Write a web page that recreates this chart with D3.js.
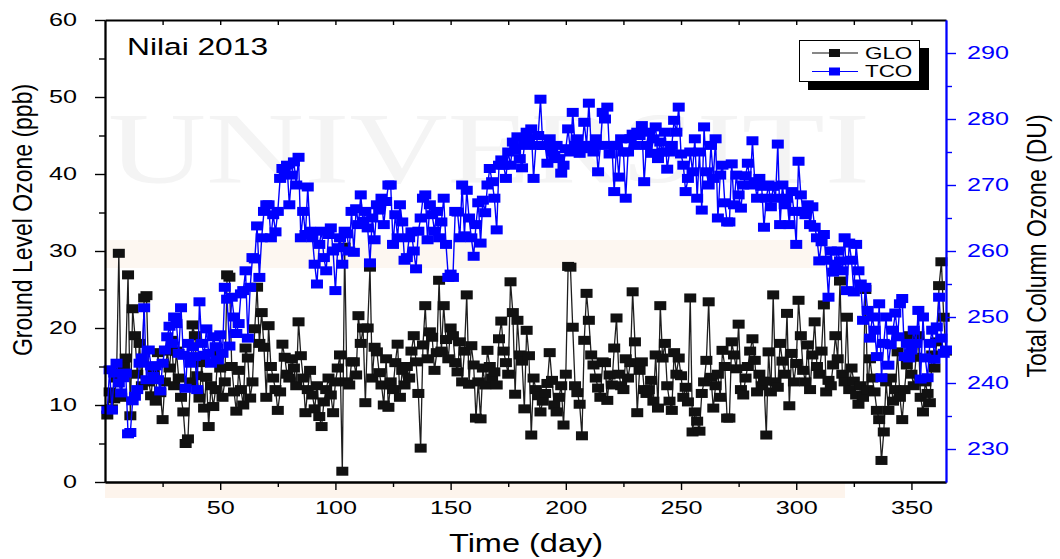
<!DOCTYPE html>
<html>
<head>
<meta charset="utf-8">
<script src="https://cdn.jsdelivr.net/npm/d3@7"></script>
<style>
    html, body { margin: 0; padding: 0; background: #fff; }
    #chart { width: 1060px; height: 559px; }
</style>
</head>
<body>
<div id="chart"></div>
<script>
// Daily values, day 1 .. 365
const gloValues = [
    8.7, 11.7, 9.5, 10.8, 13.5, 29.7, 11.0, 15.0, 16.1, 26.9,
    8.6, 22.5, 19.0, 14.0, 18.0, 12.5, 23.9, 24.2, 13.0, 11.2,
    14.5, 10.5, 16.8, 11.6, 8.1, 13.0, 17.0, 14.8, 18.4, 12.5,
    17.0, 13.5, 11.0, 9.1, 5.0, 5.6, 13.0, 20.4, 19.0, 13.8,
    10.9, 15.5, 9.6, 13.6, 7.2, 12.5, 9.8, 12.0, 16.5, 14.8,
    11.0, 13.0, 26.9, 26.6, 15.0, 11.7, 9.2, 14.5, 12.0, 10.0,
    17.4, 16.1, 10.9, 13.0, 19.9, 25.3, 18.0, 22.0, 17.5, 11.0,
    20.3, 15.0, 13.5, 12.0, 9.3, 11.7, 17.9, 16.2, 14.0, 13.5,
    16.0, 14.8, 12.5, 20.8, 16.4, 13.5, 9.0, 12.0, 14.5, 11.3,
    9.5, 12.5, 8.5, 7.2, 10.4, 12.0, 13.5, 11.3, 9.0, 13.0,
    14.8, 16.5, 1.4, 30.5, 13.0, 12.6, 15.6, 15.6, 13.9, 21.6,
    18.0, 20.0, 10.3, 20.0, 27.9, 13.5, 17.5, 16.9, 14.2, 12.6,
    10.0, 16.0, 9.7, 13.0, 12.0, 15.5, 17.9, 11.0, 14.5, 12.6,
    15.0, 13.5, 17.0, 19.0, 15.6, 11.5, 4.4, 17.8, 22.9, 16.0,
    19.5, 18.8, 14.5, 16.8, 26.2, 17.0, 22.9, 18.5, 16.0, 20.0,
    19.0, 15.5, 14.3, 18.2, 13.0, 17.0, 24.3, 12.7, 17.7, 15.2,
    8.3, 13.0, 8.2, 14.8, 12.6, 17.1, 15.0, 13.5, 14.3, 12.6,
    18.6, 20.9, 17.0, 15.5, 14.0, 26.0, 22.0, 11.4, 21.0, 16.5,
    15.7, 9.5, 19.7, 16.4, 6.1, 13.5, 12.0, 11.2, 9.1, 10.5,
    11.5, 12.8, 16.8, 13.2, 10.0, 9.1, 11.0, 12.5, 7.4, 14.0,
    28.0, 27.9, 20.1, 12.5, 11.6, 10.1, 6.0, 18.4, 24.5, 21.0,
    16.5, 15.2, 13.5, 12.2, 11.0, 15.6, 15.5, 10.6, 13.9, 12.6,
    17.4, 21.3, 14.0, 12.5, 12.0, 16.0, 13.5, 15.5, 24.7, 18.2,
    9.0, 14.5, 15.6, 12.0, 11.5, 12.0, 13.2, 10.5, 16.5, 9.6,
    22.9, 16.1, 18.0, 12.5, 10.5, 9.3, 16.8, 14.0, 16.1, 13.8,
    11.0, 12.3, 10.4, 23.9, 6.5, 9.1, 7.9, 6.6, 11.5, 13.0,
    15.8, 23.4, 13.6, 9.6, 12.5, 14.0, 11.0, 17.1, 15.0, 8.3,
    8.3, 18.2, 16.5, 14.7, 20.5, 12.0, 11.3, 13.5, 15.0, 17.0,
    18.6, 15.8, 11.7, 14.0, 12.5, 13.1, 6.1, 16.9, 11.7, 24.3,
    13.0, 12.3, 18.0, 15.7, 14.0, 21.9, 9.9, 16.7, 13.0, 15.4,
    23.6, 19.0, 14.5, 13.0, 17.8, 12.0, 16.5, 20.8, 15.0, 14.0,
    17.0, 23.0, 11.7, 13.2, 12.5, 15.2, 19.0, 16.0, 26.1, 14.0,
    13.0, 21.4, 12.0, 14.8, 13.1, 11.3, 10.1, 12.5, 11.0, 25.0,
    12.0, 16.0, 13.5, 11.7, 9.3, 8.1, 2.8, 6.5, 13.0, 9.3,
    13.5, 10.5, 12.0, 16.9, 11.0, 8.1, 12.0, 15.2, 19.0, 14.0,
    12.5, 16.2, 19.0, 11.0, 9.1, 13.0, 11.5, 10.3, 16.5, 14.8,
    18.2, 25.5, 28.6, 21.4, 17.0
];

const tcoValues = [
    236.0, 242.0, 235.9, 241.5, 243.0, 240.0, 238.5, 240.8, 241.5, 232.3,
    232.5, 237.3, 238.0, 239.0, 243.0, 243.8, 251.4, 240.5, 245.0, 242.6,
    241.0, 242.6, 240.5, 238.8, 243.0, 245.0, 247.0, 248.6, 246.0, 250.0,
    249.0, 244.5, 251.4, 244.2, 239.2, 246.0, 243.0, 245.5, 244.0, 239.0,
    252.3, 246.0, 244.2, 248.2, 244.5, 243.0, 247.0, 245.5, 243.5, 247.3,
    244.5, 254.5, 252.7, 245.6, 253.0, 250.0, 247.5, 249.0, 253.5, 254.0,
    257.0, 246.8, 254.5, 259.0, 258.8, 263.8, 256.0, 262.0, 266.0, 267.0,
    267.0, 262.0, 265.5, 262.9, 266.0, 271.0, 272.5, 272.0, 273.0, 267.0,
    271.5, 273.5, 270.0, 274.2, 262.0, 266.0, 262.5, 269.7, 263.0, 262.0,
    258.0, 255.0, 261.0, 263.0, 259.0, 257.0, 262.5, 263.5, 260.0, 254.0,
    260.5, 262.0, 258.0, 263.0, 262.6, 260.0, 266.0, 259.8, 266.4, 264.0,
    268.5, 264.5, 266.0, 263.5, 258.2, 265.0, 261.7, 267.0, 266.2, 268.0,
    264.0, 267.5, 270.0, 270.0, 261.0, 265.5, 262.0, 267.0, 264.4, 258.6,
    259.0, 262.0, 262.9, 260.0, 257.3, 263.0, 265.0, 268.0, 268.5, 261.7,
    267.0, 265.5, 263.0, 266.0, 262.0, 264.4, 268.0, 261.0, 256.0, 256.5,
    256.0, 266.0, 265.9, 262.0, 270.0, 262.3, 269.2, 265.0, 262.0, 259.2,
    264.0, 267.3, 261.2, 267.7, 265.8, 270.0, 272.5, 270.5, 268.0, 263.2,
    273.0, 273.8, 273.0, 271.0, 275.0, 273.0, 276.5, 275.3, 277.3, 274.0,
    272.6, 276.0, 278.0, 277.0, 278.5, 271.0, 276.0, 277.5, 283.0, 276.0,
    276.0, 273.3, 277.0, 275.0, 274.5, 276.0, 274.0, 271.8, 273.0, 275.5,
    278.5, 275.0, 281.0, 276.0, 277.0, 274.8, 275.5, 279.5, 276.0, 282.4,
    276.0, 275.0, 277.0, 272.0, 276.0, 281.0, 280.0, 281.8, 274.7, 276.0,
    269.0, 276.0, 271.2, 277.0, 275.0, 268.0, 275.0, 277.0, 277.7, 276.0,
    278.0, 277.5, 279.0, 270.5, 276.0, 278.0, 274.8, 277.0, 278.8, 274.0,
    276.5, 275.0, 278.0, 272.4, 275.0, 276.0, 279.8, 278.0, 281.8, 274.7,
    273.0, 269.0, 271.0, 275.0, 272.0, 277.0, 268.0, 275.0, 266.2, 278.8,
    272.0, 270.0, 276.0, 271.0, 277.0, 265.0, 271.5, 273.0, 267.3, 264.4,
    264.4, 273.2, 267.0, 271.5, 268.5, 266.5, 270.0, 271.4, 273.3, 270.0,
    276.7, 270.5, 268.0, 271.0, 269.8, 263.6, 268.0, 270.0, 266.7, 269.8,
    268.0, 276.2, 264.0, 270.0, 267.0, 268.0, 264.0, 269.0, 266.0, 261.0,
    273.6, 268.5, 266.0, 265.5, 267.0, 264.0, 266.7, 263.6, 262.0, 258.5,
    261.4, 262.5, 258.6, 253.0, 260.0, 256.8, 258.0, 260.0, 258.5, 257.0,
    262.0, 254.0, 261.2, 258.6, 253.8, 261.0, 257.0, 255.0, 249.5, 254.5,
    251.0, 246.8, 250.0, 248.0, 244.0, 252.0, 240.8, 246.0, 250.0, 242.7,
    245.8, 248.0, 250.6, 247.0, 252.0, 252.8, 244.0, 246.0, 243.8, 245.0,
    248.0, 246.0, 251.0, 240.6, 250.0, 243.8, 240.8, 246.0, 248.0, 243.6,
    248.5, 253.0, 246.8, 244.5, 245.0
];

const xMajorTicks = [50, 100, 150, 200, 250, 300, 350];
const xMinorTicks = [25, 75, 125, 175, 225, 275, 325];
const leftMajorTicks = [0, 10, 20, 30, 40, 50, 60];
const leftMinorTicks = [5, 15, 25, 35, 45, 55];
const rightMajorTicks = [230, 240, 250, 260, 270, 280, 290];
const rightMinorTicks = [235, 245, 255, 265, 275, 285];
const seriesNames = ["GLO", "TCO"];

const width = 1060, height = 559;
const plot = {left: 105, right: 946, top: 20, bottom: 482};
const stretch = 1.4;   // the source figure is squeezed, text looks wide
const blue = "#0000ff";
const font = "'Liberation Sans', Arial, sans-serif";

const svg = d3.select("#chart").append("svg")
    .attr("width", width)
    .attr("height", height)
    .style("font-family", font);

// faint thesis watermark behind the chart
svg.append("rect").attr("x", 105).attr("y", 240).attr("width", 745).attr("height", 28)
    .attr("fill", "#fdf7f1");
svg.append("rect").attr("x", 105).attr("y", 483).attr("width", 740).attr("height", 15)
    .attr("fill", "#fdf4ec");
svg.append("text")
    .attr("x", 108).attr("y", 183)
    .attr("textLength", 762).attr("lengthAdjust", "spacingAndGlyphs")
    .style("font-family", "'Liberation Serif', 'DejaVu Serif', serif")
    .style("font-size", "102px")
    .attr("fill", "#f4f4f4")
    .text("UNIVERSITI");

const x = d3.scaleLinear().domain([0, 365]).range([plot.left, plot.right]);
const yL = d3.scaleLinear().domain([0, 60]).range([plot.bottom, plot.top]);
const yR = d3.scaleLinear().domain([225, 295]).range([plot.bottom, plot.top]);

// ---- series ----
function drawSeries(values, yScale, lineColor, markColor, lineWidth) {
    const g = svg.append("g");
    const line = d3.line()
        .x((d, i) => x(i + 1))
        .y(d => yScale(d));
    g.append("path")
        .datum(values)
        .attr("fill", "none")
        .attr("stroke", lineColor)
        .attr("stroke-width", lineWidth)
        .attr("d", line);
    g.selectAll("rect")
        .data(values)
        .enter()
        .append("rect")
        .attr("x", (d, i) => x(i + 1) - 6)
        .attr("y", d => yScale(d) - 4.5)
        .attr("width", 12)
        .attr("height", 9)
        .attr("fill", markColor);
}

drawSeries(gloValues, yL, "#1e1e1e", "#111111", 1.3);
drawSeries(tcoValues, yR, blue, blue, 1.4);

// ---- axes ----
function styleAxis(g, color) {
    g.select(".domain").attr("stroke", color).attr("stroke-width", 1.8);
    g.selectAll(".tick line").attr("stroke", color).attr("stroke-width", 1.4);
    g.selectAll("text")
        .attr("fill", color)
        .style("font-family", font)
        .style("font-size", "18px")
        .attr("transform", `scale(${stretch},1)`);
}

// bottom
svg.append("g")
    .attr("transform", `translate(0,${plot.bottom})`)
    .call(d3.axisBottom(x).tickValues(xMinorTicks).tickSize(5).tickSizeOuter(0).tickFormat(""))
    .call(g => styleAxis(g, "#000"));
svg.append("g")
    .attr("transform", `translate(0,${plot.bottom})`)
    .call(d3.axisBottom(x).tickValues(xMajorTicks).tickSize(8).tickSizeOuter(0).tickPadding(11))
    .call(g => styleAxis(g, "#000"));

// top (ticks inside)
svg.append("g")
    .attr("transform", `translate(0,${plot.top})`)
    .call(d3.axisTop(x).tickValues(xMinorTicks.concat(xMajorTicks)).tickSize(-5).tickSizeOuter(0).tickFormat(""))
    .call(g => styleAxis(g, "#000"));

// left
svg.append("g")
    .attr("transform", `translate(${plot.left},0)`)
    .call(d3.axisLeft(yL).tickValues(leftMinorTicks).tickSize(6).tickSizeOuter(0).tickFormat(""))
    .call(g => styleAxis(g, "#000"));
svg.append("g")
    .attr("transform", `translate(${plot.left},0)`)
    .call(d3.axisLeft(yL).tickValues(leftMajorTicks).tickSize(10).tickSizeOuter(0).tickPadding(10))
    .call(g => styleAxis(g, "#000"));

// right (blue)
svg.append("g")
    .attr("transform", `translate(${plot.right},0)`)
    .call(d3.axisRight(yR).tickValues(rightMinorTicks).tickSize(6).tickSizeOuter(0).tickFormat(""))
    .call(g => styleAxis(g, blue));
svg.append("g")
    .attr("transform", `translate(${plot.right},0)`)
    .call(d3.axisRight(yR).tickValues(rightMajorTicks).tickSize(10).tickSizeOuter(0).tickPadding(5))
    .call(g => styleAxis(g, blue));

// ---- titles ----
svg.append("text")
    .attr("transform", `translate(127,55) scale(1.35,1)`)
    .style("font-size", "23.5px")
    .attr("fill", "#000")
    .text("Nilai 2013");

svg.append("text")
    .attr("transform", `translate(526,552) scale(1.3,1)`)
    .attr("text-anchor", "middle")
    .style("font-size", "25px")
    .attr("fill", "#000")
    .text("Time (day)");

svg.append("text")
    .attr("transform", `translate(32,220) scale(1.2,1) rotate(-90)`)
    .attr("text-anchor", "middle")
    .style("font-size", "23px")
    .attr("fill", "#000")
    .text("Ground Level Ozone (ppb)");

svg.append("text")
    .attr("transform", `translate(1046,246) scale(1.2,1) rotate(-90)`)
    .attr("text-anchor", "middle")
    .style("font-size", "23px")
    .attr("fill", "#000")
    .text("Total Column Ozone (DU)");

// ---- legend ----
const legend = svg.append("g");
legend.append("rect")
    .attr("x", 808).attr("y", 48).attr("width", 121).attr("height", 42)
    .attr("fill", "#000");
legend.append("rect")
    .attr("x", 799.5).attr("y", 40.5).attr("width", 120).attr("height", 41)
    .attr("fill", "#fff").attr("stroke", "#000").attr("stroke-width", 1);

const legendColors = ["#111111", blue];
seriesNames.forEach((name, i) => {
    const cy = 53 + i * 18.5;
    legend.append("line")
        .attr("x1", 812).attr("x2", 858).attr("y1", cy).attr("y2", cy)
        .attr("stroke", legendColors[i]).attr("stroke-width", 1.2);
    legend.append("rect")
        .attr("x", 829).attr("y", cy - 4).attr("width", 11).attr("height", 8)
        .attr("fill", legendColors[i]);
    legend.append("text")
        .attr("transform", `translate(865,${cy + 5.5}) scale(1.4,1)`)
        .style("font-size", "16px")
        .attr("fill", "#000")
        .text(name);
});
</script>
</body>
</html>
